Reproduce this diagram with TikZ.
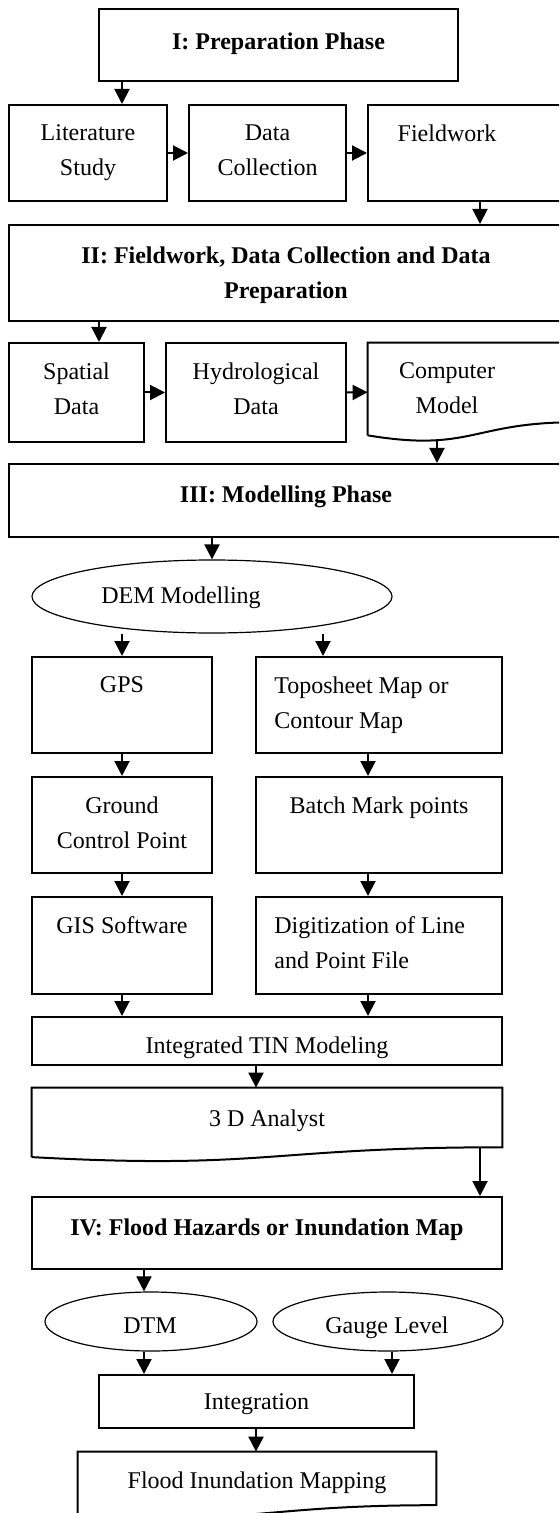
\documentclass[tikz,border=0pt]{standalone}
\usepackage{fontspec}
\setmainfont{Liberation Serif}
\usetikzlibrary{calc}
\usetikzlibrary{shapes,arrows.meta}
\usetikzlibrary{positioning}
\tikzstyle{bx}=[rectangle, draw, line width=1pt, inner sep=0pt]
\tikzstyle{doc}=[rectangle, inner sep=0pt]
\tikzstyle{el}=[ellipse, draw, line width=0.6pt, inner sep=0pt]
\tikzstyle{txt}=[anchor=north, inner sep=0pt, align=center, font=\fontsize{12}{17.5}\selectfont]
\tikzstyle{ttl}=[txt, font=\fontsize{12}{17.5}\selectfont\bfseries]
\tikzstyle{lbl}=[anchor=base, inner sep=0pt, font=\fontsize{12}{17.5}\selectfont]
\tikzstyle{arr}=[line width=1pt, -{Triangle[length=7.5pt,width=7.5pt]}]
% document shape with the wavy lower edge
\newcommand{\docpath}[1]{%
\draw[line width=1pt, line join=miter] ($(#1.north west)!.934!(#1.south west)$) -- (#1.north west)
  -- (#1.north east) -- ($(#1.north east)!.802!(#1.south east)$)
  .. controls ($(#1.north)!.802!(#1.south)$) and ($(#1.north)!1.107!(#1.south)$)
  .. ($(#1.north west)!.934!(#1.south west)$);}

\begin{document}
\begin{tikzpicture}[x=0.5pt, y=-0.5pt]
\useasboundingbox (0,0) rectangle (559,1513);
\clip (0,0) rectangle (559,1513);
\coordinate (ca) at (122,0);
\coordinate (cb) at (480,0);
\coordinate (cc) at (99,0);
\coordinate (cd) at (323,0);
\coordinate (ce) at (368,0);
\coordinate (cf) at (256,0);
\coordinate (cg) at (144,0);
\coordinate (ch) at (392,0);

% I
\node[bx, minimum width=179.5pt, minimum height=36pt] (prep) at (278.5,45) {};
\node[ttl, below=12pt of prep.north] (prept) {I: Preparation Phase};
\node[bx, minimum width=79pt, minimum height=48pt] (lit) at (88,153) {};
\node[txt, below=10pt of lit.north] (litt) {Literature\\Study};
\node[bx, minimum width=78.5pt, minimum height=48pt] (dcol) at (267.5,153) {};
\node[txt, below=10pt of dcol.north] (dcolt) {Data\\Collection};
\node[bx, minimum width=97.5pt, minimum height=48pt] (field) at (465.5,153) {};
\node[txt, below=10pt of field.north, xshift=-9.25pt] (fieldt) {Fieldwork};

% II
\node[bx, minimum width=277pt, minimum height=48pt] (fdc) at (286,273) {};
\node[ttl, below=11pt of fdc.north] (fdct) {II: Fieldwork, Data Collection and Data\\Preparation};
\node[bx, minimum width=67.5pt, minimum height=49.5pt] (spat) at (76.5,392.5) {};
\node[txt, below=10pt of spat.north] (spatt) {Spatial\\Data};
\node[bx, minimum width=90pt, minimum height=49.5pt] (hyd) at (256,392.5) {};
\node[txt, below=10pt of hyd.north] (hydt) {Hydrological\\Data};
\node[doc, minimum width=103.5pt, minimum height=49.25pt] (comp) at (471.5,392.25) {};
\docpath{comp}
\node[txt, below=10pt of comp.north, xshift=-12.25pt] (compt) {Computer\\Model};
\coordinate (compb) at (437,440);

% III
\node[bx, minimum width=277pt, minimum height=36.5pt] (model) at (286,500.5) {};
\node[ttl, below=11pt of model.north] (modelt) {III: Modelling Phase};
\node[el, minimum width=180pt, minimum height=36.5pt] (dem) at (212,596.5) {};
\node[lbl] (demt) at (181,603) {DEM Modelling};
\node[bx, minimum width=90pt, minimum height=48pt] (gps) at (122,705) {};
\node[txt, below=10pt of gps.north] (gpst) {GPS};
\node[bx, minimum width=123pt, minimum height=48pt] (topo) at (379,705) {};
\node[txt, align=left, below right=10pt and 9.5pt of topo.north west] (topot) {Toposheet Map or\\Contour Map};
\node[bx, minimum width=90pt, minimum height=48pt] (gcp) at (122,825) {};
\node[txt, below=10pt of gcp.north] (gcpt) {Ground\\Control Point};
\node[bx, minimum width=123pt, minimum height=48pt] (batch) at (379,825) {};
\node[txt, below=10pt of batch.north] (batcht) {Batch Mark points};
\node[bx, minimum width=90pt, minimum height=48.5pt] (gis) at (122,945.5) {};
\node[txt, below=10pt of gis.north] (gist) {GIS Software};
\node[bx, minimum width=123pt, minimum height=48.5pt] (digi) at (379,945.5) {};
\node[txt, align=left, below right=10pt and 9.5pt of digi.north west] (digit) {Digitization of Line\\and Point File};
\node[bx, minimum width=235pt, minimum height=24pt] (tin) at (267,1041) {};
\node[txt, below=10pt of tin.north] (tint) {Integrated TIN Modeling};
\node[doc, minimum width=235pt, minimum height=36.8pt] (ana) at (267,1124.8) {};
\docpath{ana}
\node[txt, below=11pt of ana.north] (anat) {3 D Analyst};
\coordinate (anab) at (480,1147);

% IV
\node[bx, minimum width=235pt, minimum height=36pt] (flood) at (267,1233) {};
\node[ttl, below=11pt of flood.north] (floodt) {IV: Flood Hazards or Inundation Map};
\node[el, minimum width=106pt, minimum height=29.5pt] (dtm) at (151,1321.5) {};
\node[lbl] (dtmt) at (150,1333) {DTM};
\node[el, minimum width=115pt, minimum height=29.5pt] (gauge) at (388,1321.5) {};
\node[lbl] (gauget) at (387,1333) {Gauge Level};
\node[bx, minimum width=157.5pt, minimum height=26.5pt] (integ) at (256.5,1401.5) {};
\node[txt, below=9.5pt of integ.north] (integt) {Integration};
\node[doc, minimum width=179pt, minimum height=33pt] (map) at (257,1485) {};
\docpath{map}
\node[txt, below=10pt of map.north] (mapt) {Flood Inundation Mapping};

\draw[arr] (prep.south -| ca) -- (lit.north -| ca);
\draw[arr] (lit.east) -- (dcol.west);
\draw[arr] (dcol.east) -- (field.west);
\draw[arr] (field.south -| cb) -- (fdc.north -| cb);
\draw[arr] (fdc.south -| cc) -- (spat.north -| cc);
\draw[arr] (spat.east) -- (hyd.west);
\draw[arr] (hyd.east) -- (comp.west);
\draw[arr] (compb) -- (compb |- model.north);
\draw[arr] (model.south -| dem.north) -- (dem.north);
\draw[arr] (dem.south -| gps.north) -- (gps.north);
\draw[arr] (dem.south -| cd) -- (topo.north -| cd);
\draw[arr] (gps.south) -- (gcp.north);
\draw[arr] (topo.south -| ce) -- (batch.north -| ce);
\draw[arr] (gcp.south) -- (gis.north);
\draw[arr] (batch.south -| ce) -- (digi.north -| ce);
\draw[arr] (gis.south) -- (tin.north -| gis.south);
\draw[arr] (digi.south -| ce) -- (tin.north -| ce);
\draw[arr] (tin.south -| cf) -- (ana.north -| cf);
\draw[arr] (anab) -- (anab |- flood.north);
\draw[arr] (flood.south -| cg) -- (dtm.north -| cg);
\draw[arr] (dtm.south -| cg) -- (integ.north -| cg);
\draw[arr] (gauge.south -| ch) -- (integ.north -| ch);
\draw[arr] (integ.south -| cf) -- (map.north -| cf);
\end{tikzpicture}
\end{document}
